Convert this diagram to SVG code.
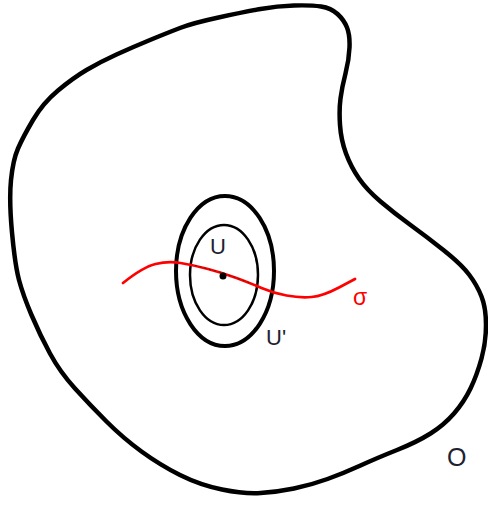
<svg xmlns="http://www.w3.org/2000/svg" width="488" height="531" viewBox="0 0 488 531">
<style>
.outline{fill:none;stroke:#000;stroke-width:4.5;stroke-linejoin:round}
.ring{fill:none;stroke:#000}
.curve{fill:none;stroke:#ff0000;stroke-width:2.7;stroke-linecap:round}
.lbl{font-family:"Liberation Sans",Arial,sans-serif;fill:#1e2230}
</style>
<rect width="488" height="531" fill="#fff"/>
<g id="region-O">
<path class="outline" d="M11,180 Q13,160 18,148.5 Q23,137 33,120 Q43,103 58,90.5 Q73,78 86.5,70 Q100,62 116.5,54.5 Q133,47 150,40 Q167,33 180,28 Q193,23 218.5,17.5 Q244,12 260.5,9 Q277,6 294,5.5 Q311,5 321,6.5 Q331,8 337.5,14 Q344,20 347,27.5 Q350,35 349.5,47.5 Q349,60 345.5,73.5 Q342,87 340.5,98.5 Q339,110 340,125 Q341,140 346,153.5 Q351,167 359,178.5 Q367,190 380.5,201.5 Q394,213 410.5,225 Q427,237 444,250.5 Q461,264 469,274.5 Q477,285 481.5,296.5 Q486,308 486,325 Q486,342 481.5,358.5 Q477,375 470.5,388.5 Q464,402 454,413.5 Q444,425 430.5,433.5 Q417,442 397,450 Q377,458 360.5,465.5 Q344,473 327.5,479 Q311,485 294,488.5 Q277,492 260.5,493 Q244,494 222,489.5 Q200,485 180,475 Q160,465 141.5,451.5 Q123,438 106.5,421.5 Q90,405 75,388.5 Q60,372 50,353.5 Q40,335 31.5,315 Q23,295 19,280 Q15,265 12,232.5 Q9,200 11,180 Z"/>
<text class="lbl" x="447" y="466" font-size="25">O</text>
</g>
<g id="region-Uprime">
<ellipse class="ring" cx="225" cy="271" rx="49" ry="75" stroke-width="4"/>
<text class="lbl" x="266" y="345" font-size="22">U'</text>
</g>
<g id="region-U">
<ellipse class="ring" cx="224" cy="275" rx="34" ry="50" stroke-width="2.5"/>
<text class="lbl" x="210" y="254" font-size="22">U</text>
</g>
<g id="connectors">
<path id="sigma" class="curve" d="M123,283 Q143,267 155.5,264 Q168,261 180.5,263 Q193,265 208,269 Q223,273 236.5,278 Q250,283 261.5,288 Q273,293 286.5,295.5 Q300,298 311.5,297 Q323,296 339,287.5 L355,279"/>
<path d="M195,265.5 Q208,269 223,273 Q236.5,278 250,283" fill="none" stroke="#222" stroke-width="1" stroke-dasharray="2 3" opacity="0.7"/>
</g>
<g id="point">
<circle cx="223" cy="276" r="3.5" fill="#000"/>
</g>
<text x="353" y="305" font-size="23" font-family="Liberation Sans,Arial,sans-serif" fill="#ff0000">σ</text>
</svg>
